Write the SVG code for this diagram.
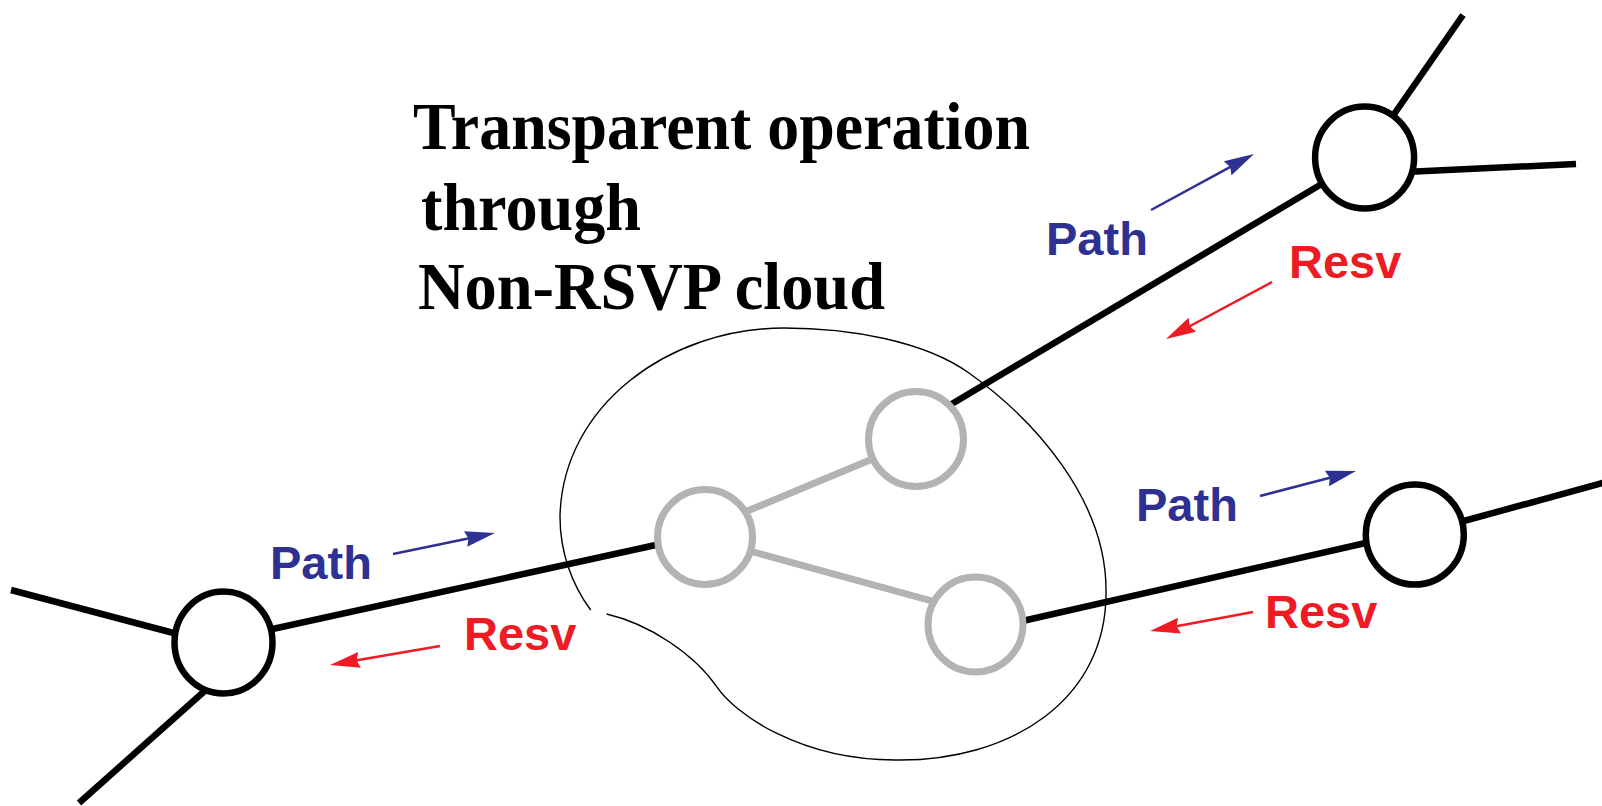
<svg xmlns="http://www.w3.org/2000/svg" width="1602" height="806" viewBox="0 0 1602 806">
<style>
.link{stroke:#000;stroke-width:6.5;fill:none;stroke-linecap:butt}
.glink{stroke:#b3b3b3;stroke-width:7;fill:none}
.router{fill:#fff;stroke:#000;stroke-width:6.5}
.grey{fill:#fff;stroke:#b3b3b3;stroke-width:7}
.cloud{fill:none;stroke:#000;stroke-width:1.4}
.title{font-family:"Liberation Serif","Times New Roman",serif;font-weight:bold;font-size:68px;fill:#000}
.lbl{font-family:"Liberation Sans",Arial,sans-serif;font-weight:bold;font-size:47px}
.path{fill:#2e3192}
.resv{fill:#ed1c24}
.aPath{stroke:#2e3192;stroke-width:2.5;fill:none}
.aResv{stroke:#ed1c24;stroke-width:2.5;fill:none}
</style>
<defs>
<marker id="mBlue" viewBox="-10 -8 30 16" refX="0" refY="0" markerWidth="30" markerHeight="16" markerUnits="userSpaceOnUse" orient="auto">
<path d="M20,0 L-10,-8 L-7,0 L-10,8 Z" fill="#2e3192"/>
</marker>
<marker id="mRed" viewBox="-10 -8 30 16" refX="0" refY="0" markerWidth="30" markerHeight="16" markerUnits="userSpaceOnUse" orient="auto">
<path d="M20,0 L-10,-8 L-7,0 L-10,8 Z" fill="#ed1c24"/>
</marker>
</defs>
<rect width="1602" height="806" fill="#fff"/>

<g id="cloud">
<path class="cloud" d="M606.6,614 C650,624 695,655 716.7,686.7 C734.7,713.7 800,760 895,760 C1010,762 1108,700 1106,590 C1106,500 1035,420 969,373 C924,341 850,328 784,328 C670,328 562,405 560,517 C560,552 572,585 590.7,610"/>
</g>

<g id="connectors">
<line class="link" x1="11" y1="590" x2="200" y2="640"/>
<line class="link" x1="79" y1="803" x2="208" y2="688"/>
<line class="link" x1="268" y1="630" x2="665" y2="543"/>
<line class="glink" x1="745" y1="512" x2="870" y2="460"/>
<line class="glink" x1="750" y1="551" x2="932" y2="601"/>
<line class="link" x1="945" y1="408" x2="1325" y2="182"/>
<line class="link" x1="1390" y1="120" x2="1463" y2="15"/>
<line class="link" x1="1405" y1="172" x2="1576" y2="164"/>
<line class="link" x1="1018" y1="622" x2="1370" y2="542"/>
<line class="link" x1="1460" y1="522" x2="1610" y2="481"/>
<line class="aPath" x1="393" y1="554" x2="475.4" y2="537" marker-end="url(#mBlue)"/>
<line class="aResv" x1="440" y1="646" x2="349.7" y2="661.6" marker-end="url(#mRed)"/>
<line class="aPath" x1="1151" y1="210" x2="1236.4" y2="163.6" marker-end="url(#mBlue)"/>
<line class="aResv" x1="1272" y1="282" x2="1183.6" y2="329.5" marker-end="url(#mRed)"/>
<line class="aPath" x1="1260" y1="496" x2="1336.6" y2="476" marker-end="url(#mBlue)"/>
<line class="aResv" x1="1253" y1="612" x2="1169.7" y2="627.4" marker-end="url(#mRed)"/>
</g>

<g id="router-left"><ellipse class="router" cx="223.5" cy="642.5" rx="49" ry="51"/></g>
<g id="router-top-right"><ellipse class="router" cx="1364.6" cy="157.5" rx="49.5" ry="51"/></g>
<g id="router-right"><ellipse class="router" cx="1414.8" cy="534.5" rx="49" ry="50"/></g>
<g id="cloud-node-left"><circle class="grey" cx="705" cy="537" r="47.5"/></g>
<g id="cloud-node-top"><circle class="grey" cx="916" cy="439" r="47.5"/></g>
<g id="cloud-node-bottom"><circle class="grey" cx="975.5" cy="624.5" r="47.5"/></g>

<g id="title">
<text class="title" x="413" y="149" textLength="617" lengthAdjust="spacingAndGlyphs">Transparent operation</text>
<text class="title" x="421" y="230" textLength="220" lengthAdjust="spacingAndGlyphs">through</text>
<text class="title" x="418" y="309" textLength="467" lengthAdjust="spacingAndGlyphs">Non-RSVP cloud</text>
</g>

<g id="labels">
<text class="lbl path" x="270" y="579">Path</text>
<text class="lbl resv" x="464" y="650">Resv</text>
<text class="lbl path" x="1046" y="255">Path</text>
<text class="lbl resv" x="1289" y="278">Resv</text>
<text class="lbl path" x="1136" y="521">Path</text>
<text class="lbl resv" x="1265" y="628">Resv</text>
</g>
</svg>
